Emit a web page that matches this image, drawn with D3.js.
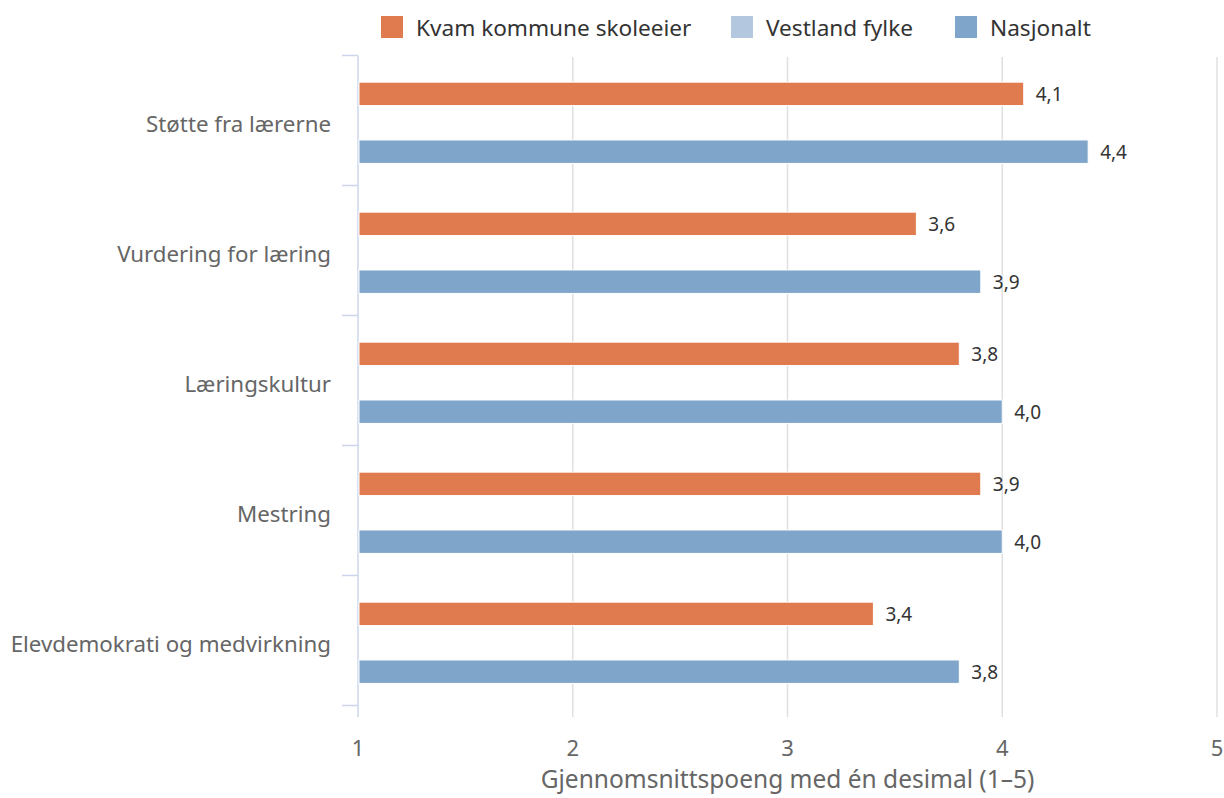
<!DOCTYPE html>
<html>
<head>
<meta charset="utf-8">
<script src="https://cdn.jsdelivr.net/npm/d3@7"></script>
<style>
  body { margin: 0; background: #fff; }
  text { font-family: "Noto Sans", "Open Sans", sans-serif; }
</style>
</head>
<body>
<svg width="1224" height="798"></svg>
<script>
// data
var categories = ["Støtte fra lærerne", "Vurdering for læring", "Læringskultur", "Mestring", "Elevdemokrati og medvirkning"];
var seriesNames = ["Kvam kommune skoleeier", "Vestland fylke", "Nasjonalt"];
var seriesColors = ["#e07b4f", "#b3c8de", "#7fa5ca"];
var kvam = [4.1, 3.6, 3.8, 3.9, 3.4];
var vestland = [null, null, null, null, null];
var nasjonalt = [4.4, 3.9, 4.0, 4.0, 3.8];
var xTicks = [1, 2, 3, 4, 5];
var xTitle = "Gjennomsnittspoeng med én desimal (1–5)";

var svg = d3.select("svg"),
  width = +svg.attr("width"),
  height = +svg.attr("height");

// plot area (window.top is reserved, so use other names)
var plotLeft = 358, plotRight = 1217, plotTop = 55.5, plotBottom = 705.5;

var x = d3.scaleLinear().domain([1, 5]).range([plotLeft, plotRight]);
var y = d3.scaleBand().domain(categories).range([plotTop, plotBottom]);
// series slots inside each category
var ys = d3.scaleBand().domain(seriesNames)
  .range([y.bandwidth() * 0.205, y.bandwidth() * 0.83])
  .paddingInner(0.19);

var allSeries = [kvam, vestland, nasjonalt];

// grid lines
svg.append("g")
  .selectAll("line")
  .data(xTicks.slice(1))
  .enter().append("line")
  .attr("x1", function (d) { return x(d); })
  .attr("x2", function (d) { return x(d); })
  .attr("y1", 57)
  .attr("y2", 717)
  .style("stroke", "#e0e0e0")
  .style("stroke-width", 1.5);

// category axis line + ticks
svg.append("line")
  .attr("x1", plotLeft).attr("x2", plotLeft)
  .attr("y1", plotTop).attr("y2", 717)
  .style("stroke", "#ccd6eb")
  .style("stroke-width", 1.5);

svg.append("g")
  .selectAll("line")
  .data(d3.range(categories.length + 1))
  .enter().append("line")
  .attr("x1", plotLeft - 16).attr("x2", plotLeft)
  .attr("y1", function (i) { return plotTop + i * y.step(); })
  .attr("y2", function (i) { return plotTop + i * y.step(); })
  .style("stroke", "#ccd6eb")
  .style("stroke-width", 1.5);

// category labels
svg.append("g")
  .selectAll("text")
  .data(categories)
  .enter().append("text")
  .attr("x", 331)
  .attr("y", function (d) { return y(d) + y.bandwidth() / 2; })
  .attr("dy", "0.5em")
  .attr("text-anchor", "end")
  .style("font-size", "22.3px")
  .style("fill", "#666666")
  .text(function (d) { return d; });

// bars
var fmt = function (v) { return v.toFixed(1).replace(".", ","); };
allSeries.forEach(function (vals, si) {
  var g = svg.append("g");
  var pts = categories.map(function (c, i) { return {cat: c, v: vals[i]}; })
    .filter(function (d) { return d.v != null; });
  g.selectAll("rect")
    .data(pts)
    .enter().append("rect")
    .attr("x", plotLeft + 1)
    .attr("y", function (d) { return y(d.cat) + ys(seriesNames[si]); })
    .attr("width", function (d) { return x(d.v) - plotLeft - 1; })
    .attr("height", ys.bandwidth())
    .style("fill", seriesColors[si])
    .style("stroke", "#fff")
    .style("stroke-width", 1);
  g.selectAll("text")
    .data(pts)
    .enter().append("text")
    .attr("x", function (d) { return x(d.v) + 12; })
    .attr("y", function (d) { return y(d.cat) + ys(seriesNames[si]) + ys.bandwidth() / 2; })
    .attr("dy", "0.4em")
    .style("font-size", "19px")
    .style("fill", "#333333")
    .text(function (d) { return fmt(d.v); });
});

// x tick labels
svg.append("g")
  .selectAll("text")
  .data(xTicks)
  .enter().append("text")
  .attr("x", function (d) { return x(d); })
  .attr("y", 756)
  .attr("text-anchor", "middle")
  .style("font-size", "22px")
  .style("fill", "#666666")
  .text(function (d) { return d; });

// x axis title
svg.append("text")
  .attr("x", (plotLeft + plotRight) / 2)
  .attr("y", 788)
  .attr("text-anchor", "middle")
  .style("font-size", "24.5px")
  .style("fill", "#666666")
  .text(xTitle);

// legend
var legendX = [381, 731, 955];
var legend = svg.append("g")
  .selectAll("g")
  .data(seriesNames)
  .enter().append("g")
  .attr("transform", function (d, i) { return "translate(" + legendX[i] + ",16)"; });
legend.append("rect")
  .attr("width", 22).attr("height", 22)
  .style("fill", function (d, i) { return seriesColors[i]; });
legend.append("text")
  .attr("x", 35)
  .attr("y", 11)
  .attr("dy", "0.4em")
  .style("font-size", "22.6px")
  .style("fill", "#333333")
  .text(function (d) { return d; });
</script>
</body>
</html>
